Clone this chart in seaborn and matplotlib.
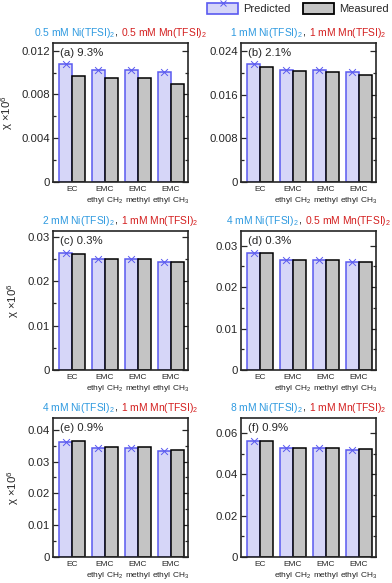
import numpy as np
import pandas as pd
import matplotlib
matplotlib.use('Agg')
import matplotlib.pyplot as plt
import seaborn as sns
from matplotlib.ticker import MultipleLocator, FuncFormatter
from matplotlib.offsetbox import TextArea, HPacker, AnchoredOffsetbox
from matplotlib.patches import Patch, Rectangle
from matplotlib.lines import Line2D
from matplotlib.legend_handler import HandlerBase

# ---- datos ----
categorias = ['EC', 'EMC ethyl CH2', 'EMC methyl', 'EMC ethyl CH3']
linea_1 = ['EC', 'EMC', 'EMC', 'EMC']
linea_2 = ['', 'ethyl CH$_2$', 'methyl', 'ethyl CH$_3$']

pred_a = [0.01075, 0.01023, 0.01023, 0.01002]
meas_a = [0.00971, 0.00953, 0.00947, 0.00895]
pred_b = [0.02169, 0.02052, 0.02052, 0.02010]
meas_b = [0.02101, 0.02028, 0.02022, 0.01954]
pred_c = [0.02626, 0.02490, 0.02490, 0.02438]
meas_c = [0.02622, 0.02498, 0.02500, 0.02438]
pred_d = [0.02824, 0.02648, 0.02648, 0.02610]
meas_d = [0.02820, 0.02660, 0.02650, 0.02600]
pred_e = [0.03613, 0.03415, 0.03415, 0.03340]
meas_e = [0.03634, 0.03446, 0.03450, 0.03372]
pred_f = [0.05597, 0.05274, 0.05260, 0.05177]
meas_f = [0.05629, 0.05290, 0.05290, 0.05210]

predichos = [pred_a, pred_b, pred_c, pred_d, pred_e, pred_f]
medidos = [meas_a, meas_b, meas_c, meas_d, meas_e, meas_f]

conc_ni = ['0.5', '1', '2', '4', '4', '8']
conc_mn = ['0.5', '1', '1', '0.5', '1', '1']
etiquetas = ['(a) 9.3%', '(b) 2.1%', '(c) 0.3%', '(d) 0.3%', '(e) 0.9%', '(f) 0.9%']
y_max = [0.0127, 0.0255, 0.0313, 0.0335, 0.0437, 0.0673]
paso_mayor = [0.004, 0.008, 0.01, 0.01, 0.01, 0.02]

# ---- estilo ----
sns.set_style('ticks')
plt.rcParams['font.family'] = ['Liberation Sans', 'DejaVu Sans']
plt.rcParams['mathtext.fontset'] = 'custom'
plt.rcParams['mathtext.rm'] = 'Liberation Sans'
plt.rcParams['mathtext.it'] = 'Liberation Sans:italic'

color_pred = '#d6d6f8'
borde_pred = '#5a5af0'
color_meas = '#c4c4c4'
azul = '#2f9ae0'
rojo = '#d42020'


class HandlerPredicho(HandlerBase):
    """Rectángulo con la cruz centrada en el borde superior."""
    def create_artists(self, legend, orig_handle, xdescent, ydescent, width, height, fontsize, trans):
        r = Rectangle((-xdescent, -ydescent), width, height, facecolor=color_pred,
                      edgecolor=borde_pred, linewidth=1.2, transform=trans)
        m = Line2D([-xdescent + width / 2], [-ydescent + height], marker='x', color=borde_pred,
                   linestyle='none', markersize=5, markeredgewidth=0.7, transform=trans)
        return [r, m]


W, H = 392, 583
fig = plt.figure(figsize=(W / 100, H / 100), dpi=100)

izq = [53, 241]
arriba = [43, 231, 418]
ancho, alto = 135, 139

for k in range(6):
    fila, col = divmod(k, 2)
    ax = fig.add_axes([izq[col] / W, (H - arriba[fila] - alto) / H, ancho / W, alto / H])

    df = pd.DataFrame({
        'categoria': categorias * 2,
        'serie': ['Predicted'] * 4 + ['Measured'] * 4,
        'valor': predichos[k] + medidos[k],
    })
    sns.barplot(data=df, x='categoria', y='valor', hue='serie', ax=ax,
                palette={'Predicted': color_pred, 'Measured': color_meas},
                saturation=1, width=0.8, gap=0, legend=False, errorbar=None)

    # bordes: primero las barras predichas, luego las medidas
    for i, p in enumerate(ax.patches):
        if i < 4:
            p.set_edgecolor(borde_pred)
        else:
            p.set_edgecolor('black')
        p.set_linewidth(1.1)

    ax.scatter(np.arange(4) - 0.2, predichos[k], marker='x', s=24,
               color=borde_pred, linewidths=0.7, zorder=5, clip_on=False)

    ax.set_xlim(-0.58, 3.52)
    ax.set_ylim(0, y_max[k])
    ax.yaxis.set_major_locator(MultipleLocator(paso_mayor[k]))
    ax.yaxis.set_minor_locator(MultipleLocator(paso_mayor[k] / 2))
    ax.yaxis.set_major_formatter(FuncFormatter(lambda v, pos: '0' if abs(v) < 1e-12 else f'{v:g}'))
    ax.tick_params(axis='y', which='both', direction='in', left=True, right=True,
                   labelsize=8.2, pad=2)
    ax.tick_params(axis='y', which='major', length=4, width=0.9)
    ax.tick_params(axis='y', which='minor', length=2.5, width=0.9)
    ax.tick_params(axis='x', length=0)
    ax.set_xticklabels([])

    # etiquetas del eje x en dos líneas, alineadas por la línea base
    for i in range(4):
        ax.annotate(linea_1[i], xy=(i, 0), xycoords=('data', 'axes fraction'),
                    xytext=(0, -6.8), textcoords='offset points',
                    ha='center', va='baseline', fontsize=6.0)
        if linea_2[i]:
            ax.annotate(linea_2[i], xy=(i, 0), xycoords=('data', 'axes fraction'),
                        xytext=(0, -14.6), textcoords='offset points',
                        ha='center', va='baseline', fontsize=6.0)

    for s in ax.spines.values():
        s.set_visible(True)
        s.set_linewidth(1.2)
    ax.set_xlabel('')
    if col == 0:
        ax.set_ylabel('χ ×10$^6$', fontsize=8.2, labelpad=5)
    else:
        ax.set_ylabel('')

    ax.text(0.05, 0.965, etiquetas[k], transform=ax.transAxes, ha='left', va='top', fontsize=8.2)

    # título a dos colores
    partes = [
        TextArea(f'{conc_ni[k]} mM Ni(TFSI)$_2$', textprops=dict(color=azul, fontsize=7.4)),
        TextArea(', ', textprops=dict(color='black', fontsize=7.4)),
        TextArea(f'{conc_mn[k]} mM Mn(TFSI)$_2$', textprops=dict(color=rojo, fontsize=7.4)),
    ]
    caja = HPacker(children=partes, align='baseline', pad=0, sep=0)
    anc = AnchoredOffsetbox(loc='lower center', child=caja, pad=0, borderpad=0, frameon=False,
                            bbox_to_anchor=(0.5, 1.025), bbox_transform=ax.transAxes)
    ax.add_artist(anc)

# leyenda
h_pred = Patch(facecolor=color_pred, edgecolor=borde_pred)
h_meas = Patch(facecolor=color_meas, edgecolor='black', linewidth=1.3)
leg = fig.legend([h_pred, h_meas], ['Predicted', 'Measured'],
                 handler_map={h_pred: HandlerPredicho()},
                 loc='upper left', bbox_to_anchor=(206 / W, 1 - 2 / H), ncol=2,
                 frameon=False, fontsize=8, handlelength=2.8, handleheight=1.1,
                 handletextpad=0.4, columnspacing=1.2, borderpad=0.1, borderaxespad=0)

fig.savefig('out.png', dpi=100)
